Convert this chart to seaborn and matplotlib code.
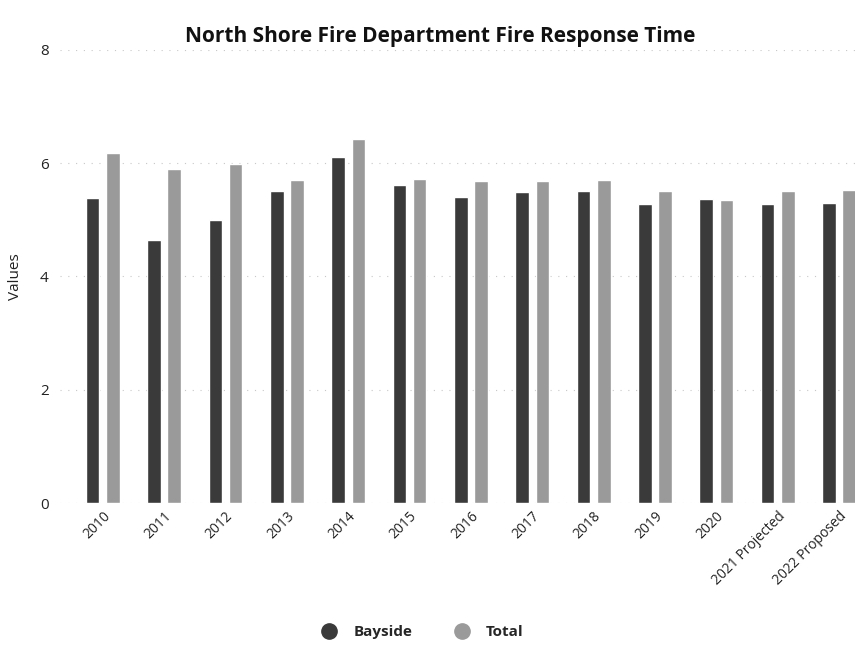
import matplotlib
matplotlib.use("Agg")
import matplotlib.pyplot as plt
import pandas as pd
import seaborn as sns

years = ["2010", "2011", "2012", "2013", "2014", "2015", "2016", "2017",
         "2018", "2019", "2020", "2021 Projected", "2022 Proposed"]
bayside = [5.38, 4.65, 4.99, 5.50, 6.10, 5.61, 5.40, 5.49, 5.50, 5.28, 5.36, 5.28, 5.30]
total = [6.18, 5.89, 5.98, 5.70, 6.42, 5.72, 5.68, 5.68, 5.71, 5.50, 5.35, 5.50, 5.52]
series = ["Bayside", "Total"]
colors = ["#3a3a3a", "#9a9a9a"]

data = pd.DataFrame({
    "Year": years * 2,
    "Values": bayside + total,
    "Series": [series[0]] * len(years) + [series[1]] * len(years),
})

sns.set_style("white")
plt.rcParams["font.family"] = ["Open Sans", "DejaVu Sans"]

fig = plt.figure(figsize=(8.55, 6.55), dpi=100)
ax = fig.add_axes([0.07, 0.232, 0.93, 0.692])

sns.barplot(
    x="Year", y="Values", hue="Series", data=data,
    palette=colors, width=0.66, gap=0.33, ax=ax,
    saturation=1, legend=False
)

ax.set_ylim(0, 8)
ax.set_yticks([0, 2, 4, 6, 8])
ax.set_xlim(-0.70, 12.26)
ax.yaxis.grid(True, linestyle=(0, (1, 6)), color="#c8c8c8", linewidth=0.8)
ax.set_axisbelow(True)
for side in ["top", "right", "left", "bottom"]:
    ax.spines[side].set_visible(False)

ax.tick_params(axis="y", labelsize=11, colors="#222222", length=0, pad=8)
ax.tick_params(axis="x", labelsize=10, colors="#222222", length=0, pad=4)
ax.set_xticks(range(len(years)))
ax.set_xticklabels(years, rotation=45, ha="right", rotation_mode="anchor")
ax.set_xlabel("")
ax.set_ylabel("Values", fontsize=11, color="#222222", labelpad=12)

fig.text(0.515, 0.945, "North Shore Fire Department Fire Response Time",
         ha="center", va="center", fontsize=15, fontweight="bold", color="#111111")

handles = [
    plt.Line2D([], [], marker="o", linestyle="", markersize=11,
               markerfacecolor=c, markeredgecolor=c)
    for c in colors
]
fig.legend(handles, series, loc="center", bbox_to_anchor=(0.49, 0.035),
           ncol=2, frameon=False, handletextpad=0.6, columnspacing=2.2,
           prop={"weight": "bold", "size": 11})

fig.savefig("out.png", dpi=100)
